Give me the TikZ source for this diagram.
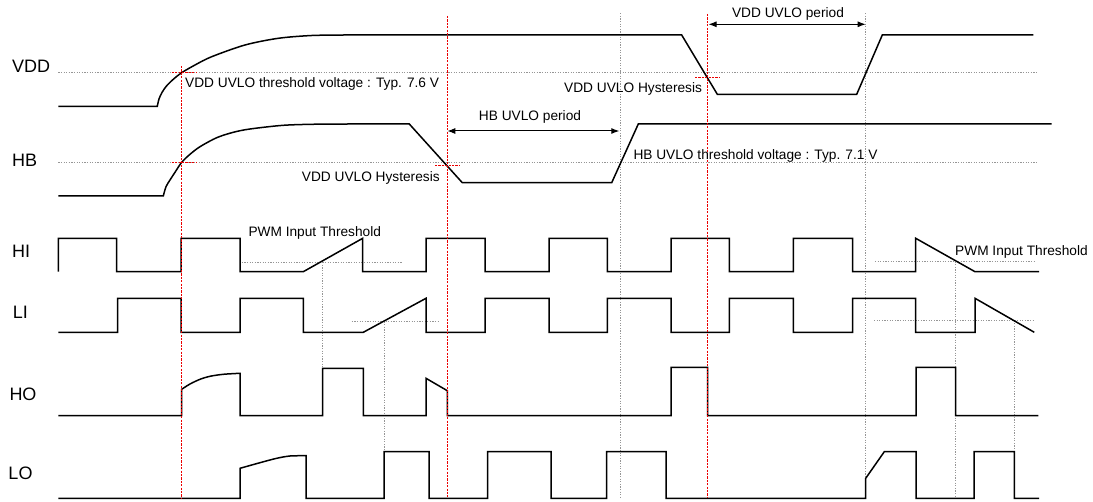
\documentclass[tikz,border=0pt]{standalone}
\usepackage{fontspec}
\setmainfont{Liberation Sans}
\usetikzlibrary{arrows.meta}
\definecolor{thrgray}{RGB}{150,150,150}
\definecolor{markred}{RGB}{235,0,0}
\tikzset{
  wave/.style={line width=1.5pt, black, line join=miter},
  thr/.style={thrgray, line width=0.7pt, dash pattern=on 1.2pt off 1.4pt},
  redline/.style={markred, line width=1.1pt, dash pattern=on 2.2pt off 1.2pt},
  lbl/.style={anchor=base west, inner sep=0pt, font=\fontsize{18}{20}\selectfont},
  ann/.style={anchor=base west, inner sep=0pt, font=\fontsize{13.7}{16}\selectfont},
  annc/.style={anchor=base, inner sep=0pt, font=\fontsize{13.7}{16}\selectfont},
  period/.style={line width=1pt, {Latex[length=8pt,width=6pt]}-{Latex[length=8pt,width=6pt]}}
}
\begin{document}
\begin{tikzpicture}[x=1pt,y=-1pt]
\useasboundingbox (0,0) rectangle (1093,502);

% signal labels
\node[lbl] (lvdd) at (12,72.7) {VDD};
\node[lbl] (lhb) at (12,167) {HB};
\node[lbl] (lhi) at (12,257.7) {HI};
\node[lbl] (lli) at (12.7,319) {LI};
\node[lbl] (lho) at (9.3,400.7) {HO};
\node[lbl] (llo) at (8.3,479) {LO};

% threshold lines
\draw[thr] (58.3,72.7) -- (1036.7,72.7);
\draw[thr] (58.3,162.3) -- (1036.7,162.3);
\draw[thr] (241.7,262.3) -- (402.7,262.3);
\draw[thr] (875,261.7) -- (1035,261.7);
\draw[thr] (351.7,321.7) -- (438.3,321.7);
\draw[thr] (874,320.7) -- (1035,320.7);
% gray vertical markers
\draw[thr] (620.7,13.3) -- (620.7,498);
\draw[thr] (865.7,13.3) -- (865.7,498);
\draw[thr] (322.7,262.3) -- (322.7,368.5);
\draw[thr] (384,321.7) -- (384,451.7);
\draw[thr] (955.7,261.7) -- (955.7,498);
\draw[thr] (1014.3,320.7) -- (1014.3,451.7);

% VDD
\draw[wave] (58.3,106.3) -- (157.3,106.3) -- plot[smooth] coordinates {(157.3,106.3) (159,99) (162,92.5) (166.5,86) (173.3,79.3) (181.7,72.7) (195,65) (211.7,56.7) (245,45) (278.3,38.3) (311.7,35.5) (345,35)} -- (681.7,35) -- (717.3,94.3) -- (856.7,94.3) -- (882.3,35) -- (1033.3,35);

% HB
\draw[wave] (58.3,196) -- (163.3,196) -- plot[smooth] coordinates {(163.3,196) (166,186.7) (170,180) (175,172.3) (181.7,162.3) (190,154.3) (200,146.7) (216.7,137.7) (233.3,132.3) (250,129) (283.3,125.3) (316.7,124.2) (350,124)} -- (409.3,124) -- (462.3,182.7) -- (611.7,182.7) -- (638.3,124) -- (1051.7,124);

% HI
\draw[wave] (58.3,271.7) -- (58.3,238.3) -- (116.7,238.3) -- (116.7,271.7) -- (181,271.7) -- (181,238.3) -- (240,238.3) -- (240,271.7) -- (303.3,271.7) -- (362.7,238.3) -- (362.7,271.7) -- (426,271.7) -- (426,238.3) -- (485,238.3) -- (485,271.7) -- (549,271.7) -- (549,238.3) -- (607.3,238.3) -- (607.3,271.7) -- (671,271.7) -- (671,238.3) -- (729.3,238.3) -- (729.3,271.7) -- (793.3,271.7) -- (793.3,238.3) -- (852.7,238.3) -- (852.7,271.7) -- (915.7,271.7) -- (915.7,238.3) -- (975,271.7) -- (1039,271.7);

% LI
\draw[wave] (58.3,332.3) -- (117.7,332.3) -- (117.7,298.3) -- (181,298.3) -- (181,332.3) -- (240,332.3) -- (240,298.3) -- (303.3,298.3) -- (303.3,332.3) -- (363.3,332.3) -- (426,298.3) -- (426,332.3) -- (485,332.3) -- (485,298.3) -- (549,298.3) -- (549,332.3) -- (607.3,332.3) -- (607.3,298.3) -- (671,298.3) -- (671,332.3) -- (729.3,332.3) -- (729.3,298.3) -- (793.3,298.3) -- (793.3,332.3) -- (852.7,332.3) -- (852.7,298.3) -- (915.7,298.3) -- (915.7,332.3) -- (975,332.3) -- (975,298.3) -- (1034.3,332.3);

% HO
\draw[wave] (58.3,415.7) -- (181.7,415.7) -- (181.7,389.3) -- plot[smooth] coordinates {(181.7,389.3) (190,384) (200,379.3) (210,376.3) (223.3,374.3) (240,373.3)} -- (240,415.7) -- (322.7,415.7) -- (322.7,368.5) -- (363.3,368.5) -- (363.3,415.7) -- (426,415.7) -- (426,378.3) -- (447.3,390.7) -- (447.3,415.7) -- (671,415.7) -- (671,367.3) -- (707.7,367.3) -- (707.7,415.7) -- (916,415.7) -- (916,367.3) -- (955.7,367.3) -- (955.7,415.7) -- (1038.3,415.7);

% LO
\draw[wave] (58.3,498.3) -- (240,498.3) -- (240,468.3) -- plot[smooth] coordinates {(240,468.3) (260,462.7) (276.7,458.3) (290,456) (306,455.7)} -- (306,498.3) -- (384,498.3) -- (384,451.7) -- (429,451.7) -- (429,498.3) -- (487.7,498.3) -- (487.7,451.7) -- (551,451.7) -- (551,498.3) -- (606.7,498.3) -- (606.7,451.7) -- (666,451.7) -- (666,498.3) -- (865.7,498.3) -- (865.7,478.3) -- (884.3,451.7) -- (916,451.7) -- (916,498.3) -- (974,498.3) -- (974,451.7) -- (1014.3,451.7) -- (1014.3,498.3) -- (1039,498.3);

% red markers (drawn over the waveforms)
\draw[redline] (181.7,66) -- (181.7,498);
\draw[redline] (447.3,16) -- (447.3,497);
\draw[redline] (707.7,14) -- (707.7,498);
\draw[redline] (171.7,72.7) -- (196.7,72.7);
\draw[redline] (171.7,162.3) -- (196.7,162.3);
\draw[redline] (435,165.7) -- (460,165.7);
\draw[redline] (695,77.3) -- (720,77.3);

% period arrows
\coordinate (hbA) at (447.3,131);
\coordinate (hbB) at (619.3,131);
\draw[period] (hbA) -- (hbB);
\node[annc] (thbp) at (530,120.5) {HB UVLO period};
\coordinate (vdA) at (708.5,24.3);
\coordinate (vdB) at (865.7,24.3);
\draw[period] (vdA) -- (vdB);
\node[annc] (tvdp) at (788,17.3) {VDD UVLO period};

% annotations
\node[ann] (tvth) at (185,87.3) {VDD UVLO threshold voltage : Typ. 7.6 V};
\node[ann] (tvhy) at (564,92.5) {VDD UVLO Hysteresis};
\node[ann] (thhy) at (301.7,181.3) {VDD UVLO Hysteresis};
\node[ann] (thth) at (633.3,159.3) {HB UVLO threshold voltage : Typ. 7.1 V};
\node[ann] (tpwm1) at (248.3,236.5) {PWM Input Threshold};
\node[ann] (tpwm2) at (955,255.7) {PWM Input Threshold};
\end{tikzpicture}
\end{document}
